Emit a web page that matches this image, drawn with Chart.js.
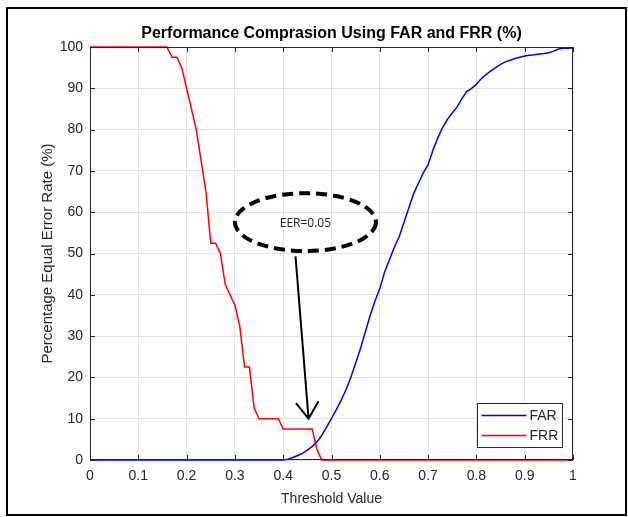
<!DOCTYPE html>
<html>
<head>
<meta charset="utf-8">
<script src="https://cdn.jsdelivr.net/npm/chart.js@4.4.0/dist/chart.umd.min.js"></script>
<style>
  html, body { margin: 0; padding: 0; background: #ffffff; }
  #wrap { width: 628px; height: 517px; }
</style>
</head>
<body>
<div id="wrap"><canvas id="chart" width="628" height="517"></canvas></div>
<script>
// values
const frrThreshold = [0, 0.159, 0.17, 0.18, 0.19, 0.2, 0.21, 0.22, 0.23, 0.24, 0.25, 0.26, 0.27, 0.28, 0.29, 0.3, 0.31, 0.32, 0.33, 0.34, 0.35, 0.39, 0.4, 0.46, 0.47, 0.48, 1.0];
const frrValues    = [100, 100, 97.5, 97.5, 95, 90, 85, 80, 72.5, 65, 52.5, 52.5, 50, 42.5, 40, 37.5, 32.5, 22.5, 22.5, 12.5, 10, 10, 7.5, 7.5, 2.5, 0, 0];

const farThreshold = [0, 0.4, 0.41, 0.42, 0.43, 0.44, 0.45, 0.46, 0.47, 0.48, 0.49, 0.5, 0.51, 0.52, 0.53, 0.54, 0.55, 0.56, 0.57, 0.58, 0.59, 0.6, 0.61, 0.62, 0.63, 0.64, 0.65, 0.66, 0.67, 0.68, 0.69, 0.7, 0.71, 0.72, 0.73, 0.74, 0.75, 0.76, 0.77, 0.78, 0.79, 0.8, 0.81, 0.82, 0.83, 0.84, 0.85, 0.86, 0.87, 0.88, 0.89, 0.9, 0.91, 0.92, 0.93, 0.94, 0.95, 0.96, 0.97, 0.98, 0.99, 1.0];
const farValues    = [0, 0, 0.2, 0.6, 1.1, 1.6, 2.4, 3.3, 4.4, 6, 8, 10.1, 12.2, 14.5, 17, 20, 23.5, 27, 31, 35, 38.5, 41.5, 45.5, 48.5, 51.5, 54, 57.5, 61, 64.5, 67, 69.5, 71.5, 75, 78, 80.5, 82.5, 84, 85.5, 87.5, 89.2, 90, 91, 92.3, 93.3, 94.2, 95, 95.8, 96.4, 96.8, 97.2, 97.5, 97.8, 98, 98.1, 98.3, 98.4, 98.6, 99, 99.5, 99.7, 99.7, 99.8];

const seriesNames = ["FAR", "FRR"];
const xTicks = [0, 0.1, 0.2, 0.3, 0.4, 0.5, 0.6, 0.7, 0.8, 0.9, 1];
const yTicks = [0, 10, 20, 30, 40, 50, 60, 70, 80, 90, 100];

const titleText = "Performance Comprasion Using FAR and FRR (%)";
const xLabel = "Threshold Value";
const yLabel = "Percentage Equal Error Rate (%)";

// annotation (data units): ellipse centre/radii and arrow from -> to
const eerText = "EER=0.05";
const eerEllipse = [0.446, 57.6, 0.146, 7.0];
const eerArrow = [0.4255, 49.3, 0.4525, 10.0];

const ink = "#262626";
const textFont = "'Liberation Sans', Arial, sans-serif";

const toPoints = (xs, ys) => xs.map((x, i) => ({ x: x, y: ys[i] }));

const decorations = {
  id: "decorations",
  afterDatasetsDraw(chart) {
    const { ctx, chartArea: a, scales } = chart;
    const xs = scales.x, ys = scales.y;
    ctx.save();

    // axes box and inward ticks
    ctx.strokeStyle = ink;
    ctx.lineWidth = 1;
    ctx.beginPath();
    ctx.rect(a.left + 0.5, a.top + 0.5, a.right - a.left - 1, a.bottom - a.top - 1);
    xTicks.forEach(v => {
      const px = Math.round(xs.getPixelForValue(v)) + 0.5;
      ctx.moveTo(px, a.bottom); ctx.lineTo(px, a.bottom - 5);
      ctx.moveTo(px, a.top); ctx.lineTo(px, a.top + 5);
    });
    yTicks.forEach(v => {
      const py = Math.round(ys.getPixelForValue(v)) + 0.5;
      ctx.moveTo(a.left, py); ctx.lineTo(a.left + 5, py);
      ctx.moveTo(a.right, py); ctx.lineTo(a.right - 5, py);
    });
    ctx.stroke();

    // title and axis labels
    ctx.fillStyle = "#000000";
    ctx.font = "bold 16px " + textFont;
    ctx.textAlign = "center";
    ctx.textBaseline = "middle";
    ctx.fillText(titleText, (a.left + a.right) / 2, 34);

    ctx.fillStyle = ink;
    ctx.font = "14px " + textFont;
    ctx.fillText(xLabel, (a.left + a.right) / 2, 499);
    ctx.save();
    ctx.font = "15px " + textFont;
    ctx.translate(48, (a.top + a.bottom) / 2);
    ctx.rotate(-Math.PI / 2);
    ctx.fillText(yLabel, 0, 0);
    ctx.restore();

    // EER ellipse
    const cx = xs.getPixelForValue(eerEllipse[0]);
    const cy = ys.getPixelForValue(eerEllipse[1]);
    const rx = xs.getPixelForValue(eerEllipse[0] + eerEllipse[2]) - cx;
    const ry = cy - ys.getPixelForValue(eerEllipse[1] + eerEllipse[3]);
    ctx.strokeStyle = "#000000";
    ctx.lineWidth = 4;
    ctx.setLineDash([11, 6]);
    ctx.beginPath();
    ctx.ellipse(cx, cy, rx, ry, 0, 0, Math.PI * 2);
    ctx.stroke();
    ctx.setLineDash([]);
    ctx.fillStyle = "#222222";
    ctx.font = "12px 'Open Sans', sans-serif";
    ctx.fillText(eerText, cx, cy + 1);

    // arrow
    const x1 = xs.getPixelForValue(eerArrow[0]), y1 = ys.getPixelForValue(eerArrow[1]);
    const x2 = xs.getPixelForValue(eerArrow[2]), y2 = ys.getPixelForValue(eerArrow[3]);
    const ang = Math.atan2(y2 - y1, x2 - x1);
    ctx.lineWidth = 2;
    ctx.beginPath();
    ctx.moveTo(x1, y1); ctx.lineTo(x2, y2);
    ctx.moveTo(x2 - 20 * Math.cos(ang - 0.6), y2 - 20 * Math.sin(ang - 0.6));
    ctx.lineTo(x2, y2);
    ctx.lineTo(x2 - 20 * Math.cos(ang + 0.6), y2 - 20 * Math.sin(ang + 0.6));
    ctx.stroke();

    // legend box
    const lx = 477.5, ly = 403.5, lw = 85, lh = 44;
    ctx.fillStyle = "#ffffff";
    ctx.fillRect(lx, ly, lw, lh);
    ctx.strokeStyle = ink;
    ctx.lineWidth = 1;
    ctx.strokeRect(lx, ly, lw, lh);
    ctx.font = "14px " + textFont;
    ctx.textAlign = "left";
    chart.data.datasets.forEach((ds, i) => {
      const rowY = ly + 12 + i * 20;
      ctx.strokeStyle = ds.borderColor;
      ctx.lineWidth = 1.5;
      ctx.beginPath();
      ctx.moveTo(lx + 4, rowY); ctx.lineTo(lx + 49, rowY);
      ctx.stroke();
      ctx.fillStyle = ink;
      ctx.fillText(ds.label, lx + 52, rowY + 1);
    });

    // outer frame
    ctx.strokeStyle = "#000000";
    ctx.lineWidth = 2;
    ctx.strokeRect(7, 8, 619, 507);
    ctx.restore();
  }
};

new Chart(document.getElementById("chart"), {
  type: "line",
  data: {
    datasets: [
      {
        label: seriesNames[0],
        data: toPoints(farThreshold, farValues),
        borderColor: "#0000ff",
        borderWidth: 1.5,
        pointRadius: 0,
        tension: 0,
        clip: 3,
      },
      {
        label: seriesNames[1],
        data: toPoints(frrThreshold, frrValues),
        borderColor: "#ff0000",
        borderWidth: 1.5,
        pointRadius: 0,
        tension: 0,
        clip: 3,
      },
    ],
  },
  options: {
    responsive: false,
    animation: false,
    events: [],
    layout: { padding: { top: 47, right: 55, left: 0, bottom: 0 } },
    plugins: {
      legend: { display: false },
      title: { display: false },
      tooltip: { enabled: false },
    },
    scales: {
      x: {
        type: "linear",
        min: 0,
        max: 1,
        afterFit: (s) => { s.height = 57; },
        afterBuildTicks: (s) => { s.ticks = xTicks.map(v => ({ value: v })); },
        grid: { color: "#e3e3e3", lineWidth: 1, drawTicks: false },
        border: { display: false },
        ticks: {
          padding: 8,
          color: ink,
          font: { family: textFont, size: 14 },
          maxRotation: 0,
          callback: (v) => String(v),
        },
      },
      y: {
        type: "linear",
        min: 0,
        max: 100,
        afterFit: (s) => { s.width = 90; },
        afterBuildTicks: (s) => { s.ticks = yTicks.map(v => ({ value: v })); },
        grid: { color: "#e3e3e3", lineWidth: 1, drawTicks: false },
        border: { display: false },
        ticks: {
          padding: 7,
          color: ink,
          font: { family: textFont, size: 14 },
          callback: (v) => String(v),
        },
      },
    },
  },
  plugins: [decorations],
});
</script>
</body>
</html>
